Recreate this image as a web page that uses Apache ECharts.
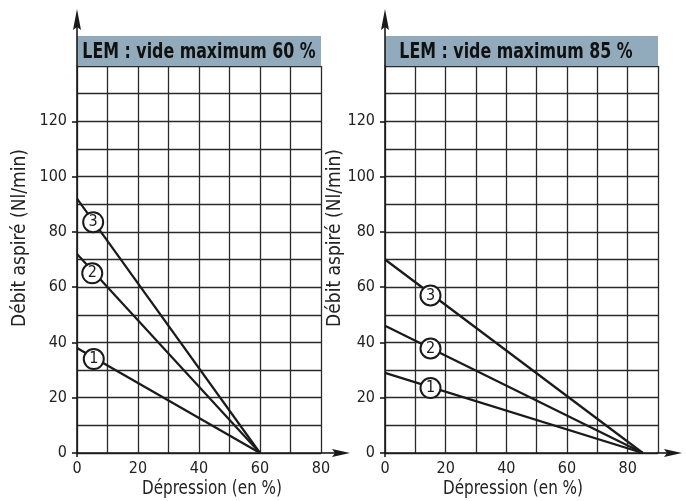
<!DOCTYPE html>
<html><head><meta charset="utf-8">
<script src="https://cdn.jsdelivr.net/npm/echarts@6/dist/echarts.min.js"></script>
<style>html,body{margin:0;padding:0;background:#fff}#c{width:686px;height:501px}</style>
</head><body><div id="c"></div>
<script>
// ---- data ----
const titles = ['LEM : vide maximum 60 %', 'LEM : vide maximum 85 %'];
const xTickLabels = [0, 20, 40, 60, 80];
const yTickLabels = [0, 20, 40, 60, 80, 100, 120];
const leftLine1 = [[0, 38], [60, 0]];
const leftLine2 = [[0, 72], [60, 0]];
const leftLine3 = [[0, 92], [60, 0]];
const rightLine1 = [[0, 29], [85, 0]];
const rightLine2 = [[0, 46], [85, 0]];
const rightLine3 = [[0, 70], [85, 0]];
const leftBadges = [[5.5, 34, '1'], [5, 65, '2'], [5.3, 83.5, '3']];
const rightBadges = [[15, 23.5, '1'], [15, 37.8, '2'], [15, 57, '3']];
const xMax = [80, 90];
const yMax = 140;

// ---- layout ----
const FONT = "'Liberation Sans Narrow','DejaVu Sans Condensed','Liberation Sans',sans-serif";
const INK = '#1a1a1a';
const GRIDLINE = {show: true, lineStyle: {color: '#2a2a2a', width: 1.3}};
const grids = [
  {left: 77, top: 66, width: 244, height: 387},
  {left: 385, top: 66, width: 273, height: 387}
];
const chart = echarts.init(document.getElementById('c'), null, {renderer: 'canvas'});

function xAxis(i) {
  return {
    type: 'value', gridIndex: i, min: 0, max: xMax[i], interval: 10, position: 'bottom',
    axisLine: {show: true, onZero: false, lineStyle: {color: INK, width: 1.6}},
    axisTick: {show: true, customValues: [0], length: 4, lineStyle: {color: INK, width: 1.6}},
    axisLabel: {customValues: xTickLabels, color: '#222', fontFamily: FONT, fontSize: 16, margin: 8},
    splitLine: {show: false}, z: 4
  };
}
function yAxis(i) {
  return {
    type: 'value', gridIndex: i, min: 0, max: yMax, interval: 10, position: 'left',
    axisLine: {show: true, onZero: false, lineStyle: {color: INK, width: 1.6}},
    axisTick: {show: true, customValues: yTickLabels, length: 5, lineStyle: {color: INK, width: 1.6}},
    axisLabel: {customValues: yTickLabels, color: '#222', fontFamily: FONT, fontSize: 16, margin: 10},
    splitLine: {show: false}, z: 4
  };
}
// helper axes that only draw the 10-unit grid
function xGridAxis(i) {
  return {type: 'value', gridIndex: i, min: 0, max: xMax[i], interval: 10, position: 'top',
    axisLine: {show: false}, axisTick: {show: false}, axisLabel: {show: false}, splitLine: GRIDLINE};
}
function yGridAxis(i) {
  return {type: 'value', gridIndex: i, min: 0, max: yMax, interval: 10, position: 'right',
    axisLine: {show: false}, axisTick: {show: false}, axisLabel: {show: false}, splitLine: GRIDLINE};
}
function lineSeries(i, data) {
  return {type: 'line', xAxisIndex: i, yAxisIndex: i, data: data, showSymbol: false, symbol: 'none',
    lineStyle: {color: INK, width: 2.2}, silent: true, z: 3};
}
function badgeSeries(i, data) {
  return {type: 'scatter', xAxisIndex: i, yAxisIndex: i, data: data, symbol: 'circle', symbolSize: 20,
    itemStyle: {color: '#fff', borderColor: INK, borderWidth: 2, opacity: 1},
    label: {show: true, position: 'inside', formatter: p => p.value[2], color: INK, fontFamily: FONT, fontSize: 16},
    silent: true, z: 5};
}

const graphics = [];
const bandColor = '#91aabc';
grids.forEach((g, i) => {
  const x0 = g.left, yB = g.top + g.height, x1 = g.left + g.width;
  // title band
  graphics.push({type: 'rect', shape: {x: x0, y: 36, width: g.width, height: g.top - 36}, style: {fill: bandColor}, z: 1});
  graphics.push({type: 'text', x: i === 0 ? 199 : 516, y: 52, scaleX: 0.8, style: {text: titles[i], fill: '#111', font: "bold 22px " + FONT, textAlign: 'center', textVerticalAlign: 'middle'}, z: 2});
  // y axis extension + arrow
  graphics.push({type: 'line', shape: {x1: x0, y1: g.top, x2: x0, y2: 26}, style: {stroke: INK, lineWidth: 1.6}, z: 2});
  graphics.push({type: 'polygon', shape: {points: [[x0, 9], [x0 + 4, 30], [x0, 27], [x0 - 4, 30]]}, style: {fill: INK}, z: 2});
  // x axis extension + arrow
  const tip = i === 0 ? 350 : 682;
  graphics.push({type: 'line', shape: {x1: x1, y1: yB, x2: tip - 14, y2: yB}, style: {stroke: INK, lineWidth: 1.6}, z: 2});
  graphics.push({type: 'polygon', shape: {points: [[tip, yB], [tip - 18, yB - 4], [tip - 15, yB], [tip - 18, yB + 4]]}, style: {fill: INK}, z: 2});
  // axis titles
  graphics.push({type: 'text', x: i === 0 ? 212 : 513, y: 489, scaleX: 0.89, style: {text: 'Dépression (en %)', fill: '#222', font: "19px " + FONT, textAlign: 'center', textVerticalAlign: 'middle'}, z: 2});
  graphics.push({type: 'text', x: i === 0 ? 20 : 335, y: 238, rotation: Math.PI / 2, style: {text: 'Débit aspiré (Nl/min)', fill: '#222', font: "19px " + FONT, textAlign: 'center', textVerticalAlign: 'middle'}, z: 2});
});

chart.setOption({
  animation: false,
  backgroundColor: '#fff',
  grid: grids.map(g => Object.assign({containLabel: false}, g)),
  xAxis: [xAxis(0), xAxis(1), xGridAxis(0), xGridAxis(1)],
  yAxis: [yAxis(0), yAxis(1), yGridAxis(0), yGridAxis(1)],
  series: [
    lineSeries(0, leftLine1), lineSeries(0, leftLine2), lineSeries(0, leftLine3),
    lineSeries(1, rightLine1), lineSeries(1, rightLine2), lineSeries(1, rightLine3),
    badgeSeries(0, leftBadges), badgeSeries(1, rightBadges)
  ],
  graphic: graphics
});
</script></body></html>
